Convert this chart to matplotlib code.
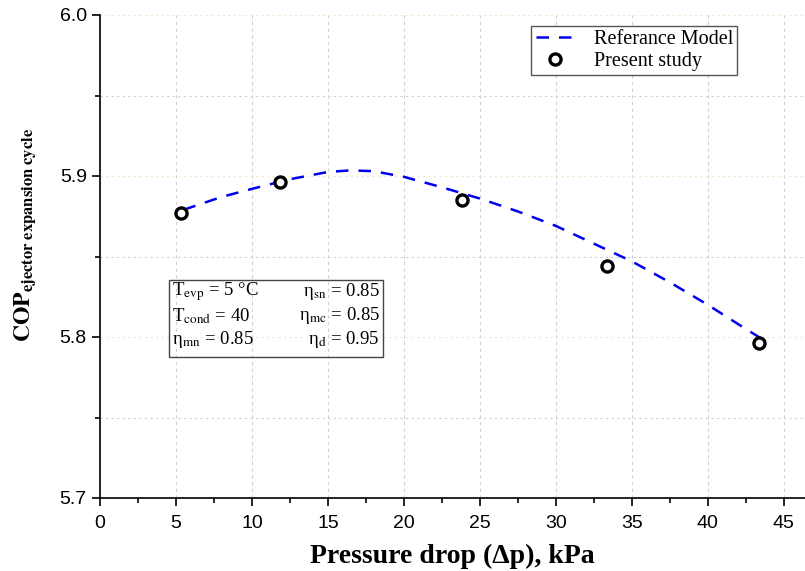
import matplotlib
matplotlib.use("Agg")
import matplotlib.pyplot as plt
from matplotlib.ticker import MultipleLocator

# data
model_dp = [5.5, 8, 10, 12.5, 15, 16.5, 18, 20, 22.5, 25, 27.5, 30, 32.5, 35, 37.5, 40, 42, 43.7]
model_cop = [5.879, 5.887, 5.892, 5.898, 5.9025, 5.9035, 5.903, 5.8995, 5.893, 5.886, 5.878, 5.869, 5.858, 5.847, 5.834, 5.820, 5.808, 5.798]
study_dp = [5.3, 11.85, 23.8, 33.4, 43.4]
study_cop = [5.877, 5.896, 5.885, 5.844, 5.796]

plt.rcParams['font.family'] = ['Liberation Sans', 'DejaVu Sans']
plt.rcParams['mathtext.fontset'] = 'stix'

fig = plt.figure(figsize=(8.05, 5.71), dpi=100)
ax = fig.add_axes([100 / 805, 1 - 498 / 571, 705 / 805, 483 / 571])

ax.plot(model_dp, model_cop, color='#0000ee', ls=(0, (5, 4)), lw=1.8,
        label='Referance Model')
ax.plot(study_dp, study_cop, ls='none', marker='o', ms=8, mfc='white',
        mec='black', mew=2.4, label='Present study')

ax.set_xlim(0, 46.4)
ax.set_ylim(5.7, 6.0)
ax.xaxis.set_major_locator(MultipleLocator(5))
ax.xaxis.set_minor_locator(MultipleLocator(2.5))
ax.yaxis.set_major_locator(MultipleLocator(0.1))
ax.yaxis.set_minor_locator(MultipleLocator(0.05))
ax.tick_params(which='major', direction='out', length=6, width=1.2, labelsize=14)
ax.tick_params(axis='x', which='major', pad=6)
ax.tick_params(which='minor', direction='out', length=3.5, width=1.2)
ax.yaxis.set_major_formatter(matplotlib.ticker.FormatStrFormatter('%.1f'))

ax.spines['top'].set_visible(False)
ax.spines['right'].set_visible(False)
ax.spines['left'].set_linewidth(1.2)
ax.spines['bottom'].set_linewidth(1.2)

ax.grid(True, which='major', axis='x', color='#d0d0d0', ls=(0, (3, 3)), lw=0.8)
ax.grid(True, which='major', axis='y', color='#f5e6cc', ls=(0, (2, 3)), lw=0.8)
ax.grid(True, which='minor', axis='y', color='#d0d0d0', ls=(0, (2, 3)), lw=0.8)

ax.set_xlabel('Pressure drop (\u0394p), kPa', family='Liberation Serif',
              fontsize=20, fontweight='bold', labelpad=9)
ax.set_ylabel(r'$\mathbf{COP}_{\mathbf{ejector\ expansion\ cycle}}$',
              fontsize=17)
ax.yaxis.set_label_coords(-0.088, 0.545)

leg = ax.legend(loc='upper right', bbox_to_anchor=(0.904, 0.978), frameon=True,
                fancybox=False, edgecolor='#555555', framealpha=1,
                prop={'family': 'Liberation Serif', 'size': 14.5},
                handlelength=1.9, borderpad=0.2, labelspacing=0.15,
                handletextpad=1.0, borderaxespad=0)
leg.get_frame().set_linewidth(1.0)

# parameters box
lines_l = [r'T$_{\rm evp}$ = 5 °C', r'T$_{\rm cond}$ = 40', r'η$_{\rm mn}$ = 0.85']
lines_r = [r'η$_{\rm sn}$ = 0.85', r'η$_{\rm mc}$ = 0.85', r'η$_{\rm d}$ = 0.95']
box = matplotlib.patches.Rectangle((169 / 805, 1 - 357 / 571), 214 / 805,
                                   77 / 571, transform=fig.transFigure,
                                   fill=False, ec='#444444', lw=1.0)
fig.patches.append(box)
for i, (a, b) in enumerate(zip(lines_l, lines_r)):
    y = 1 - (292 + i * 24) / 571
    fig.text(172 / 805, y, a, family='Liberation Serif', fontsize=13.5, va='center')
    fig.text(380 / 805, y, b, family='Liberation Serif', fontsize=13.5, va='center',
             ha='right')

fig.savefig('out.png', dpi=100)
